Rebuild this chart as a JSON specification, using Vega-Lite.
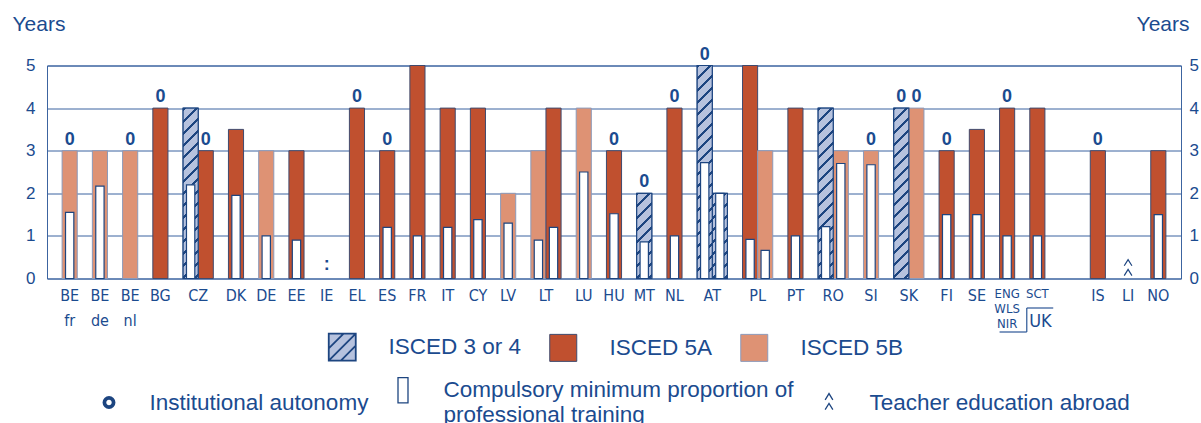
{
  "$schema": "https://vega.github.io/schema/vega-lite/v6.json",
  "width": 1134,
  "height": 213,
  "autosize": {"type": "none"},
  "padding": {"left": 47, "top": 65.5, "right": 20, "bottom": 144.5},
  "background": "white",
  "config": {"view": {"stroke": "#3C64A0", "strokeWidth": 1}},
  "datasets": {
    "bars": [
      {"bar": "BE fr", "country": "BE fr", "level": "ISCED 5B", "years": 3, "training": 1.55, "autonomy": true},
      {"bar": "BE de", "country": "BE de", "level": "ISCED 5B", "years": 3, "training": 2.17, "autonomy": false},
      {"bar": "BE nl", "country": "BE nl", "level": "ISCED 5B", "years": 3, "training": null, "autonomy": true},
      {"bar": "BG", "country": "BG", "level": "ISCED 5A", "years": 4, "training": null, "autonomy": true},
      {"bar": "CZ a", "country": "CZ", "level": "ISCED 3 or 4", "years": 4, "training": 2.2, "autonomy": false},
      {"bar": "CZ b", "country": "CZ", "level": "ISCED 5A", "years": 3, "training": null, "autonomy": true},
      {"bar": "DK", "country": "DK", "level": "ISCED 5A", "years": 3.5, "training": 1.95, "autonomy": false},
      {"bar": "DE", "country": "DE", "level": "ISCED 5B", "years": 3, "training": 1.0, "autonomy": false},
      {"bar": "EE", "country": "EE", "level": "ISCED 5A", "years": 3, "training": 0.9, "autonomy": false},
      {"bar": "EL", "country": "EL", "level": "ISCED 5A", "years": 4, "training": null, "autonomy": true},
      {"bar": "ES", "country": "ES", "level": "ISCED 5A", "years": 3, "training": 1.2, "autonomy": true},
      {"bar": "FR", "country": "FR", "level": "ISCED 5A", "years": 5, "training": 1.0, "autonomy": false},
      {"bar": "IT", "country": "IT", "level": "ISCED 5A", "years": 4, "training": 1.2, "autonomy": false},
      {"bar": "CY", "country": "CY", "level": "ISCED 5A", "years": 4, "training": 1.38, "autonomy": false},
      {"bar": "LV", "country": "LV", "level": "ISCED 5B", "years": 2, "training": 1.3, "autonomy": false},
      {"bar": "LT a", "country": "LT", "level": "ISCED 5B", "years": 3, "training": 0.9, "autonomy": false},
      {"bar": "LT b", "country": "LT", "level": "ISCED 5A", "years": 4, "training": 1.2, "autonomy": false},
      {"bar": "LU", "country": "LU", "level": "ISCED 5B", "years": 4, "training": 2.5, "autonomy": false},
      {"bar": "HU", "country": "HU", "level": "ISCED 5A", "years": 3, "training": 1.52, "autonomy": true},
      {"bar": "MT", "country": "MT", "level": "ISCED 3 or 4", "years": 2, "training": 0.86, "autonomy": true},
      {"bar": "NL", "country": "NL", "level": "ISCED 5A", "years": 4, "training": 1.0, "autonomy": true},
      {"bar": "AT a", "country": "AT", "level": "ISCED 3 or 4", "years": 5, "training": 2.72, "autonomy": true},
      {"bar": "AT b", "country": "AT", "level": "ISCED 3 or 4", "years": 2, "training": 2.0, "autonomy": false},
      {"bar": "PL a", "country": "PL", "level": "ISCED 5A", "years": 5, "training": 0.92, "autonomy": false},
      {"bar": "PL b", "country": "PL", "level": "ISCED 5B", "years": 3, "training": 0.66, "autonomy": false},
      {"bar": "PT", "country": "PT", "level": "ISCED 5A", "years": 4, "training": 1.0, "autonomy": false},
      {"bar": "RO a", "country": "RO", "level": "ISCED 3 or 4", "years": 4, "training": 1.22, "autonomy": false},
      {"bar": "RO b", "country": "RO", "level": "ISCED 5B", "years": 3, "training": 2.7, "autonomy": false},
      {"bar": "SI", "country": "SI", "level": "ISCED 5B", "years": 3, "training": 2.67, "autonomy": true},
      {"bar": "SK a", "country": "SK", "level": "ISCED 3 or 4", "years": 4, "training": null, "autonomy": true},
      {"bar": "SK b", "country": "SK", "level": "ISCED 5B", "years": 4, "training": null, "autonomy": true},
      {"bar": "FI", "country": "FI", "level": "ISCED 5A", "years": 3, "training": 1.5, "autonomy": true},
      {"bar": "SE", "country": "SE", "level": "ISCED 5A", "years": 3.5, "training": 1.5, "autonomy": false},
      {"bar": "UK ENG", "country": "UK-ENG/WLS/NIR", "level": "ISCED 5A", "years": 4, "training": 1.0, "autonomy": true},
      {"bar": "UK SCT", "country": "UK-SCT", "level": "ISCED 5A", "years": 4, "training": 1.0, "autonomy": false},
      {"bar": "IS", "country": "IS", "level": "ISCED 5A", "years": 3, "training": null, "autonomy": true},
      {"bar": "NO", "country": "NO", "level": "ISCED 5A", "years": 3, "training": 1.5, "autonomy": false}
    ],
    "labels": [
      {"bar": "BE fr", "label": "BE fr", "pair": false},
      {"bar": "BE de", "label": "BE de", "pair": false},
      {"bar": "BE nl", "label": "BE nl", "pair": false},
      {"bar": "BG", "label": "BG", "pair": false},
      {"bar": "CZ a", "label": "CZ", "pair": true},
      {"bar": "DK", "label": "DK", "pair": false},
      {"bar": "DE", "label": "DE", "pair": false},
      {"bar": "EE", "label": "EE", "pair": false},
      {"bar": "IE", "label": "IE", "pair": false},
      {"bar": "EL", "label": "EL", "pair": false},
      {"bar": "ES", "label": "ES", "pair": false},
      {"bar": "FR", "label": "FR", "pair": false},
      {"bar": "IT", "label": "IT", "pair": false},
      {"bar": "CY", "label": "CY", "pair": false},
      {"bar": "LV", "label": "LV", "pair": false},
      {"bar": "LT a", "label": "LT", "pair": true},
      {"bar": "LU", "label": "LU", "pair": false},
      {"bar": "HU", "label": "HU", "pair": false},
      {"bar": "MT", "label": "MT", "pair": false},
      {"bar": "NL", "label": "NL", "pair": false},
      {"bar": "AT a", "label": "AT", "pair": true},
      {"bar": "PL a", "label": "PL", "pair": true},
      {"bar": "PT", "label": "PT", "pair": false},
      {"bar": "RO a", "label": "RO", "pair": true},
      {"bar": "SI", "label": "SI", "pair": false},
      {"bar": "SK a", "label": "SK", "pair": true},
      {"bar": "FI", "label": "FI", "pair": false},
      {"bar": "SE", "label": "SE", "pair": false},
      {"bar": "IS", "label": "IS", "pair": false},
      {"bar": "LI", "label": "LI", "pair": false},
      {"bar": "NO", "label": "NO", "pair": false}
    ],
    "uk": [
      {"bar": "UK ENG", "label": "ENG WLS NIR"},
      {"bar": "UK SCT", "label": "SCT"}
    ],
    "notes": [
      {"bar": "IE", "status": "not available"},
      {"bar": "LI", "status": "teacher education abroad"}
    ],
    "legend2": [
      {"item": "Institutional autonomy"},
      {"item": "Compulsory minimum proportion of professional training"},
      {"item": "Teacher education abroad"}
    ]
  },
  "layer": [
    {
      "data": {"name": "bars"},
      "mark": {"type": "bar", "strokeWidth": 1},
      "encoding": {
        "x": {
          "field": "bar", "type": "nominal", "axis": null,
          "scale": {
            "type": "band", "paddingInner": 0, "paddingOuter": 0,
            "domain": ["s0","BE fr","s2","BE de","s4","BE nl","s6","BG","s8","CZ a","CZ b","s11","DK","s13","DE","s15","EE","s17","IE","s19","EL","s21","ES","s23","FR","s25","IT","s27","CY","s29","LV","s31","LT a","LT b","s34","LU","s36","HU","s38","MT","s40","NL","s42","AT a","AT b","s45","PL a","PL b","s48","PT","s50","RO a","RO b","s53","SI","s55","SK a","SK b","s58","FI","s60","SE","s62","UK ENG","s64","UK SCT","s66","s67","s68","IS","s70","LI","s72","NO","s74"]
          }
        },
        "y": {
          "field": "years", "type": "quantitative",
          "scale": {"domain": [0, 5], "nice": false},
          "axis": {
            "orient": "left", "values": [0, 1, 2, 3, 4, 5], "format": "d",
            "grid": true, "gridColor": "#3A62A0", "gridWidth": 1, "gridOpacity": 1,
            "domain": false, "ticks": false, "labelPadding": 12,
            "labelFont": "Liberation Sans", "labelFontSize": 17, "labelColor": "#1B4B8F",
            "title": "Years", "titleAngle": 0, "titleAlign": "left", "titleBaseline": "alphabetic",
            "titleX": -35, "titleY": -35.5, "titleFont": "Liberation Sans", "titleFontSize": 21,
            "titleFontWeight": "normal", "titleColor": "#1B4B8F"
          }
        },
        "fill": {
          "field": "level", "type": "nominal",
          "scale": {"domain": ["ISCED 3 or 4", "ISCED 5A", "ISCED 5B"], "range": ["#B6C2DE", "#C0502F", "#DE9274"]},
          "legend": {
            "orient": "none", "legendX": 284, "legendY": 270, "direction": "horizontal", "title": null,
            "symbolType": "square", "symbolSize": 729, "symbolStrokeWidth": 1,
            "labelFont": "Liberation Sans", "labelFontSize": 22.5, "labelColor": "#1B4B8F",
            "labelOffset": 35, "columnPadding": 25, "labelLimit": 600,
            "encode": {
              "symbols": {
                "update": {
                  "shape": {"signal": "datum.value === 'ISCED 3 or 4' ? 'M-1,-1H1V1H-1ZM-1,0.1L0.1,-1M-1,1L1,-1M-0.1,1L1,-0.1' : 'square'"},
                  "stroke": {"signal": "datum.value === 'ISCED 3 or 4' ? '#1D4580' : datum.value === 'ISCED 5A' ? '#3F4A6E' : '#8C9ABA'"},
                  "strokeWidth": {"signal": "datum.value === 'ISCED 3 or 4' ? 1.8 : 1"}
                }
              }
            }
          }
        },
        "stroke": {
          "field": "level", "type": "nominal",
          "scale": {"domain": ["ISCED 3 or 4", "ISCED 5A", "ISCED 5B"], "range": ["#1D4580", "#3F4A6E", "#8C9ABA"]},
          "legend": null
        }
      }
    },
    {
      "data": {"name": "bars"},
      "transform": [{"filter": "datum.level === 'ISCED 3 or 4' && datum.years === 4"}],
      "mark": {
        "type": "bar", "stroke": "#1D4580", "strokeWidth": 1.2,
        "fill": {"gradient": "linear", "x1": 0, "y1": 0, "x2": 0.1364, "y2": 1.5372, "stops": [
          {"offset":0,"color":"#1D4580"},{"offset":0.011,"color":"#1D4580"},{"offset":0.011,"color":"#B6C2DE"},{"offset":0.04545,"color":"#B6C2DE"},
          {"offset":0.04545,"color":"#1D4580"},{"offset":0.05645,"color":"#1D4580"},{"offset":0.05645,"color":"#B6C2DE"},{"offset":0.09091,"color":"#B6C2DE"},
          {"offset":0.09091,"color":"#1D4580"},{"offset":0.10191,"color":"#1D4580"},{"offset":0.10191,"color":"#B6C2DE"},{"offset":0.13636,"color":"#B6C2DE"},
          {"offset":0.13636,"color":"#1D4580"},{"offset":0.14736,"color":"#1D4580"},{"offset":0.14736,"color":"#B6C2DE"},{"offset":0.18182,"color":"#B6C2DE"},
          {"offset":0.18182,"color":"#1D4580"},{"offset":0.19282,"color":"#1D4580"},{"offset":0.19282,"color":"#B6C2DE"},{"offset":0.22727,"color":"#B6C2DE"},
          {"offset":0.22727,"color":"#1D4580"},{"offset":0.23827,"color":"#1D4580"},{"offset":0.23827,"color":"#B6C2DE"},{"offset":0.27273,"color":"#B6C2DE"},
          {"offset":0.27273,"color":"#1D4580"},{"offset":0.28373,"color":"#1D4580"},{"offset":0.28373,"color":"#B6C2DE"},{"offset":0.31818,"color":"#B6C2DE"},
          {"offset":0.31818,"color":"#1D4580"},{"offset":0.32918,"color":"#1D4580"},{"offset":0.32918,"color":"#B6C2DE"},{"offset":0.36364,"color":"#B6C2DE"},
          {"offset":0.36364,"color":"#1D4580"},{"offset":0.37464,"color":"#1D4580"},{"offset":0.37464,"color":"#B6C2DE"},{"offset":0.40909,"color":"#B6C2DE"},
          {"offset":0.40909,"color":"#1D4580"},{"offset":0.42009,"color":"#1D4580"},{"offset":0.42009,"color":"#B6C2DE"},{"offset":0.45455,"color":"#B6C2DE"},
          {"offset":0.45455,"color":"#1D4580"},{"offset":0.46555,"color":"#1D4580"},{"offset":0.46555,"color":"#B6C2DE"},{"offset":0.5,"color":"#B6C2DE"},
          {"offset":0.5,"color":"#1D4580"},{"offset":0.511,"color":"#1D4580"},{"offset":0.511,"color":"#B6C2DE"},{"offset":0.54545,"color":"#B6C2DE"},
          {"offset":0.54545,"color":"#1D4580"},{"offset":0.55645,"color":"#1D4580"},{"offset":0.55645,"color":"#B6C2DE"},{"offset":0.59091,"color":"#B6C2DE"},
          {"offset":0.59091,"color":"#1D4580"},{"offset":0.60191,"color":"#1D4580"},{"offset":0.60191,"color":"#B6C2DE"},{"offset":0.63636,"color":"#B6C2DE"},
          {"offset":0.63636,"color":"#1D4580"},{"offset":0.64736,"color":"#1D4580"},{"offset":0.64736,"color":"#B6C2DE"},{"offset":0.68182,"color":"#B6C2DE"},
          {"offset":0.68182,"color":"#1D4580"},{"offset":0.69282,"color":"#1D4580"},{"offset":0.69282,"color":"#B6C2DE"},{"offset":0.72727,"color":"#B6C2DE"},
          {"offset":0.72727,"color":"#1D4580"},{"offset":0.73827,"color":"#1D4580"},{"offset":0.73827,"color":"#B6C2DE"},{"offset":1,"color":"#B6C2DE"}
        ]}
      },
      "encoding": {
        "x": {"field": "bar", "type": "nominal", "axis": null},
        "y": {"field": "years", "type": "quantitative", "axis": null}
      }
    },
    {
      "data": {"name": "bars"},
      "transform": [{"filter": "datum.level === 'ISCED 3 or 4' && datum.years === 2"}],
      "mark": {
        "type": "bar", "stroke": "#1D4580", "strokeWidth": 1.2,
        "fill": {"gradient": "linear", "x1": 0, "y1": 0, "x2": 0.5331, "y2": 3.004, "stops": [
          {"offset":0,"color":"#1D4580"},{"offset":0.011,"color":"#1D4580"},{"offset":0.011,"color":"#B6C2DE"},{"offset":0.04545,"color":"#B6C2DE"},
          {"offset":0.04545,"color":"#1D4580"},{"offset":0.05645,"color":"#1D4580"},{"offset":0.05645,"color":"#B6C2DE"},{"offset":0.09091,"color":"#B6C2DE"},
          {"offset":0.09091,"color":"#1D4580"},{"offset":0.10191,"color":"#1D4580"},{"offset":0.10191,"color":"#B6C2DE"},{"offset":0.13636,"color":"#B6C2DE"},
          {"offset":0.13636,"color":"#1D4580"},{"offset":0.14736,"color":"#1D4580"},{"offset":0.14736,"color":"#B6C2DE"},{"offset":0.18182,"color":"#B6C2DE"},
          {"offset":0.18182,"color":"#1D4580"},{"offset":0.19282,"color":"#1D4580"},{"offset":0.19282,"color":"#B6C2DE"},{"offset":0.22727,"color":"#B6C2DE"},
          {"offset":0.22727,"color":"#1D4580"},{"offset":0.23827,"color":"#1D4580"},{"offset":0.23827,"color":"#B6C2DE"},{"offset":0.27273,"color":"#B6C2DE"},
          {"offset":0.27273,"color":"#1D4580"},{"offset":0.28373,"color":"#1D4580"},{"offset":0.28373,"color":"#B6C2DE"},{"offset":0.31818,"color":"#B6C2DE"},
          {"offset":0.31818,"color":"#1D4580"},{"offset":0.32918,"color":"#1D4580"},{"offset":0.32918,"color":"#B6C2DE"},{"offset":0.36364,"color":"#B6C2DE"},
          {"offset":0.36364,"color":"#1D4580"},{"offset":0.37464,"color":"#1D4580"},{"offset":0.37464,"color":"#B6C2DE"},{"offset":0.40909,"color":"#B6C2DE"},
          {"offset":0.40909,"color":"#1D4580"},{"offset":0.42009,"color":"#1D4580"},{"offset":0.42009,"color":"#B6C2DE"},{"offset":1,"color":"#B6C2DE"}
        ]}
      },
      "encoding": {
        "x": {"field": "bar", "type": "nominal", "axis": null},
        "y": {"field": "years", "type": "quantitative", "axis": null}
      }
    },
    {
      "data": {"name": "bars"},
      "transform": [{"filter": "datum.level === 'ISCED 3 or 4' && datum.years === 5"}],
      "mark": {
        "type": "bar", "stroke": "#1D4580", "strokeWidth": 1.2,
        "fill": {"gradient": "linear", "x1": 0, "y1": 0, "x2": 0.08754, "y2": 1.2332, "stops": [
          {"offset":0,"color":"#1D4580"},{"offset":0.011,"color":"#1D4580"},{"offset":0.011,"color":"#B6C2DE"},{"offset":0.04545,"color":"#B6C2DE"},
          {"offset":0.04545,"color":"#1D4580"},{"offset":0.05645,"color":"#1D4580"},{"offset":0.05645,"color":"#B6C2DE"},{"offset":0.09091,"color":"#B6C2DE"},
          {"offset":0.09091,"color":"#1D4580"},{"offset":0.10191,"color":"#1D4580"},{"offset":0.10191,"color":"#B6C2DE"},{"offset":0.13636,"color":"#B6C2DE"},
          {"offset":0.13636,"color":"#1D4580"},{"offset":0.14736,"color":"#1D4580"},{"offset":0.14736,"color":"#B6C2DE"},{"offset":0.18182,"color":"#B6C2DE"},
          {"offset":0.18182,"color":"#1D4580"},{"offset":0.19282,"color":"#1D4580"},{"offset":0.19282,"color":"#B6C2DE"},{"offset":0.22727,"color":"#B6C2DE"},
          {"offset":0.22727,"color":"#1D4580"},{"offset":0.23827,"color":"#1D4580"},{"offset":0.23827,"color":"#B6C2DE"},{"offset":0.27273,"color":"#B6C2DE"},
          {"offset":0.27273,"color":"#1D4580"},{"offset":0.28373,"color":"#1D4580"},{"offset":0.28373,"color":"#B6C2DE"},{"offset":0.31818,"color":"#B6C2DE"},
          {"offset":0.31818,"color":"#1D4580"},{"offset":0.32918,"color":"#1D4580"},{"offset":0.32918,"color":"#B6C2DE"},{"offset":0.36364,"color":"#B6C2DE"},
          {"offset":0.36364,"color":"#1D4580"},{"offset":0.37464,"color":"#1D4580"},{"offset":0.37464,"color":"#B6C2DE"},{"offset":0.40909,"color":"#B6C2DE"},
          {"offset":0.40909,"color":"#1D4580"},{"offset":0.42009,"color":"#1D4580"},{"offset":0.42009,"color":"#B6C2DE"},{"offset":0.45455,"color":"#B6C2DE"},
          {"offset":0.45455,"color":"#1D4580"},{"offset":0.46555,"color":"#1D4580"},{"offset":0.46555,"color":"#B6C2DE"},{"offset":0.5,"color":"#B6C2DE"},
          {"offset":0.5,"color":"#1D4580"},{"offset":0.511,"color":"#1D4580"},{"offset":0.511,"color":"#B6C2DE"},{"offset":0.54545,"color":"#B6C2DE"},
          {"offset":0.54545,"color":"#1D4580"},{"offset":0.55645,"color":"#1D4580"},{"offset":0.55645,"color":"#B6C2DE"},{"offset":0.59091,"color":"#B6C2DE"},
          {"offset":0.59091,"color":"#1D4580"},{"offset":0.60191,"color":"#1D4580"},{"offset":0.60191,"color":"#B6C2DE"},{"offset":0.63636,"color":"#B6C2DE"},
          {"offset":0.63636,"color":"#1D4580"},{"offset":0.64736,"color":"#1D4580"},{"offset":0.64736,"color":"#B6C2DE"},{"offset":0.68182,"color":"#B6C2DE"},
          {"offset":0.68182,"color":"#1D4580"},{"offset":0.69282,"color":"#1D4580"},{"offset":0.69282,"color":"#B6C2DE"},{"offset":0.72727,"color":"#B6C2DE"},
          {"offset":0.72727,"color":"#1D4580"},{"offset":0.73827,"color":"#1D4580"},{"offset":0.73827,"color":"#B6C2DE"},{"offset":0.77273,"color":"#B6C2DE"},
          {"offset":0.77273,"color":"#1D4580"},{"offset":0.78373,"color":"#1D4580"},{"offset":0.78373,"color":"#B6C2DE"},{"offset":0.81818,"color":"#B6C2DE"},
          {"offset":0.81818,"color":"#1D4580"},{"offset":0.82918,"color":"#1D4580"},{"offset":0.82918,"color":"#B6C2DE"},{"offset":0.86364,"color":"#B6C2DE"},
          {"offset":0.86364,"color":"#1D4580"},{"offset":0.87464,"color":"#1D4580"},{"offset":0.87464,"color":"#B6C2DE"},{"offset":1,"color":"#B6C2DE"}
        ]}
      },
      "encoding": {
        "x": {"field": "bar", "type": "nominal", "axis": null},
        "y": {"field": "years", "type": "quantitative", "axis": null}
      }
    },
    {
      "data": {"name": "bars"},
      "transform": [{"filter": "datum.training > 0"}],
      "mark": {"type": "bar", "width": {"band": 0.55}, "fill": "#ffffff", "stroke": "#1D4580", "strokeWidth": 1.2},
      "encoding": {
        "x": {"field": "bar", "type": "nominal", "axis": null},
        "y": {
          "field": "training", "type": "quantitative",
          "axis": {
            "orient": "right", "values": [0, 1, 2, 3, 4, 5], "format": "d",
            "grid": false, "domain": false, "ticks": false, "labelPadding": 8,
            "labelFont": "Liberation Sans", "labelFontSize": 17, "labelColor": "#1B4B8F",
            "title": "Years", "titleAngle": 0, "titleAlign": "right", "titleBaseline": "alphabetic",
            "titleX": 8, "titleY": -35.5, "titleFont": "Liberation Sans", "titleFontSize": 21,
            "titleFontWeight": "normal", "titleColor": "#1B4B8F"
          }
        }
      }
    },
    {
      "data": {"name": "bars"},
      "transform": [{"filter": "datum.autonomy"}],
      "mark": {"type": "text", "text": "0", "font": "Liberation Sans", "fontWeight": "bold", "fontSize": 18, "fill": "#1B4B8F", "baseline": "alphabetic", "dy": -6},
      "encoding": {
        "x": {"field": "bar", "type": "nominal", "axis": null},
        "y": {"field": "years", "type": "quantitative", "axis": null}
      }
    },
    {
      "data": {"name": "labels"},
      "transform": [{"filter": "!datum.pair"}],
      "mark": {"type": "text", "font": "Liberation Sans Narrow, DejaVu Sans Condensed, sans-serif", "fontSize": 16, "fill": "#1B4B8F", "baseline": "alphabetic", "dy": 22.5, "lineBreak": " ", "lineHeight": 25},
      "encoding": {
        "x": {"field": "bar", "type": "nominal", "axis": null, "bandPosition": 0.5},
        "y": {"datum": 0, "axis": null},
        "text": {"field": "label"}
      }
    },
    {
      "data": {"name": "labels"},
      "transform": [{"filter": "datum.pair"}],
      "mark": {"type": "text", "font": "Liberation Sans Narrow, DejaVu Sans Condensed, sans-serif", "fontSize": 16, "fill": "#1B4B8F", "baseline": "alphabetic", "dy": 22.5},
      "encoding": {
        "x": {"field": "bar", "type": "nominal", "axis": null, "bandPosition": 1},
        "y": {"datum": 0, "axis": null},
        "text": {"field": "label"}
      }
    },
    {
      "data": {"name": "uk"},
      "mark": {"type": "text", "font": "Liberation Sans Narrow, DejaVu Sans Condensed, sans-serif", "fontSize": 13, "fill": "#1B4B8F", "baseline": "alphabetic", "dy": 19.5, "lineBreak": " ", "lineHeight": 15},
      "encoding": {
        "x": {"field": "bar", "type": "nominal", "axis": null, "bandPosition": 0.5},
        "y": {"datum": 0, "axis": null},
        "text": {"field": "label"}
      }
    },
    {
      "data": {"values": [{"bar": "UK SCT", "label": "UK"}]},
      "mark": {"type": "text", "font": "Liberation Sans Narrow, DejaVu Sans Condensed, sans-serif", "fontSize": 18, "fill": "#1B4B8F", "baseline": "alphabetic", "dy": 48.5},
      "encoding": {
        "x": {"field": "bar", "type": "nominal", "axis": null, "bandPosition": 0.7},
        "y": {"datum": 0, "axis": null},
        "text": {"field": "label"}
      }
    },
    {
      "data": {"name": "notes"},
      "transform": [{"filter": "datum.status === 'not available'"}],
      "mark": {"type": "text", "text": ":", "font": "Liberation Sans", "fontWeight": "bold", "fontSize": 18, "fill": "#1B4B8F", "baseline": "alphabetic", "dy": -8.5},
      "encoding": {
        "x": {"field": "bar", "type": "nominal", "axis": null},
        "y": {"datum": 0, "axis": null}
      }
    },
    {
      "data": {"name": "notes"},
      "transform": [{"filter": "datum.status === 'teacher education abroad'"}],
      "mark": {"type": "point", "shape": "M-0.285,-0.2L0,-0.66L0.285,-0.2M-0.285,0.53L0,0.07L0.285,0.53", "size": 729, "filled": false, "stroke": "#1D4580", "strokeWidth": 1.2, "opacity": 1, "yOffset": -10},
      "encoding": {
        "x": {"field": "bar", "type": "nominal", "axis": null},
        "y": {"datum": 0, "axis": null}
      }
    },
    {
      "data": {"values": [{}]},
      "mark": {"type": "rule", "color": "#2A5595", "strokeWidth": 1.2, "yOffset": 53.5},
      "encoding": {
        "x": {"datum": "UK ENG", "bandPosition": 0, "axis": null},
        "x2": {"datum": "s64", "bandPosition": 0.8},
        "y": {"datum": 0, "axis": null}
      }
    },
    {
      "data": {"values": [{}]},
      "mark": {"type": "rule", "color": "#2A5595", "strokeWidth": 1.2, "yOffset": 29.5, "y2Offset": 53.5},
      "encoding": {
        "x": {"datum": "s64", "bandPosition": 0.8, "axis": null},
        "y": {"datum": 0, "axis": null},
        "y2": {"datum": 0}
      }
    },
    {
      "data": {"values": [{}]},
      "mark": {"type": "rule", "color": "#2A5595", "strokeWidth": 1.2, "yOffset": 29.5},
      "encoding": {
        "x": {"datum": "s64", "bandPosition": 0.8, "axis": null},
        "x2": {"datum": "s66", "bandPosition": 0.55},
        "y": {"datum": 0, "axis": null}
      }
    },
    {
      "data": {"name": "legend2"},
      "mark": {"type": "point", "opacity": 0},
      "encoding": {
        "shape": {
          "field": "item", "type": "nominal",
          "scale": {
            "domain": ["Institutional autonomy", "Compulsory minimum proportion of professional training", "Teacher education abroad"],
            "range": ["M0.25,0A0.25,0.25,0,1,1,-0.25,0A0.25,0.25,0,1,1,0.25,0ZM0.31,0A0.31,0.31,0,1,1,-0.31,0A0.31,0.31,0,1,1,0.31,0ZM0.37,0A0.37,0.37,0,1,1,-0.37,0A0.37,0.37,0,1,1,0.37,0ZM0.43,0A0.43,0.43,0,1,1,-0.43,0A0.43,0.43,0,1,1,0.43,0Z", "M-0.37,-0.93H0.37V0.93H-0.37Z", "M-0.285,-0.2L0,-0.66L0.285,-0.2M-0.285,0.53L0,0.07L0.285,0.53"]
          },
          "legend": {
            "orient": "none", "legendX": 47.5, "legendY": 310, "direction": "horizontal", "title": null,
            "symbolSize": 729, "symbolStrokeWidth": 1.3, "symbolStrokeColor": "#1D4580",
            "labelFont": "Liberation Sans", "labelFontSize": 22.5, "labelColor": "#1B4B8F",
            "labelOffset": 26, "columnPadding": 20, "labelLimit": 600,
            "labelExpr": "datum.label == 'Compulsory minimum proportion of professional training' ? ['Compulsory minimum proportion of', 'professional training'] : datum.label",
            "encode": {
              "symbols": {
                "update": {
                  "opacity": {"value": 1},
                  "stroke": {"value": "#1D4580"},
                  "strokeWidth": {"value": 1.3}
                }
              },
              "labels": {
                "update": {"lineHeight": {"value": 25}}
              }
            }
          }
        }
      }
    }
  ],
  "resolve": {"axis": {"y": "independent"}}
}
